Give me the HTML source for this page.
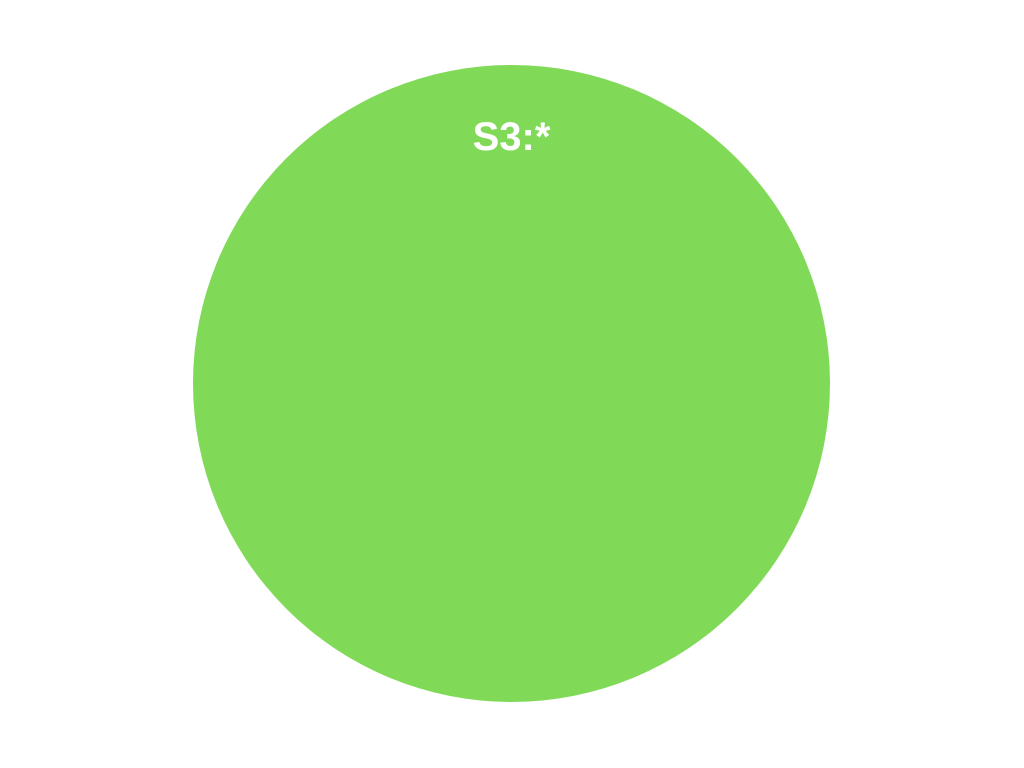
<!DOCTYPE html>
<html><head><meta charset="utf-8"><style>
html,body{margin:0;padding:0;background:#fff;width:1024px;height:768px;overflow:hidden}
</style></head><body>
<svg id="chart" width="1024" height="768" xmlns="http://www.w3.org/2000/svg"></svg>
<script>
const categories = ["S3:*"];
const values = [100];
const colors = ["#80da58"];
const svg = document.getElementById('chart');
const NS = "http://www.w3.org/2000/svg";
const cx = 511.5, cy = 383.5, r = 318.5;
const total = values.reduce((a,b)=>a+b,0);
let ang = -Math.PI/2;
values.forEach((v,i)=>{
  const frac = v/total;
  const a0 = ang, a1 = ang + frac*2*Math.PI;
  let el;
  if (frac >= 0.9999) {
    el = document.createElementNS(NS,'circle');
    el.setAttribute('cx',cx);el.setAttribute('cy',cy);el.setAttribute('r',r);
  } else {
    el = document.createElementNS(NS,'path');
    const large = (a1-a0) > Math.PI ? 1 : 0;
    el.setAttribute('d',`M${cx},${cy} L${cx+r*Math.cos(a0)},${cy+r*Math.sin(a0)} A${r},${r} 0 ${large} 1 ${cx+r*Math.cos(a1)},${cy+r*Math.sin(a1)} Z`);
  }
  el.setAttribute('fill',colors[i%colors.length]);
  
  
  svg.appendChild(el);
  const t = document.createElementNS(NS,'text');
  let lx, ly;
  if (frac >= 0.9999) { lx = cx; ly = 150; }
  else { const m=(a0+a1)/2; lx = cx+r*0.75*Math.cos(m); ly = cy+r*0.75*Math.sin(m)+14; }
  t.setAttribute('x',lx);t.setAttribute('y',ly);
  t.setAttribute('text-anchor','middle');
  t.setAttribute('fill','#fff');
  t.setAttribute('font-family','"Liberation Sans", sans-serif');
  t.setAttribute('font-weight','bold');
  t.setAttribute('font-size','40');
  t.textContent = categories[i];
  
  
  svg.appendChild(t);
  ang = a1;
});
</script>
</body></html>
